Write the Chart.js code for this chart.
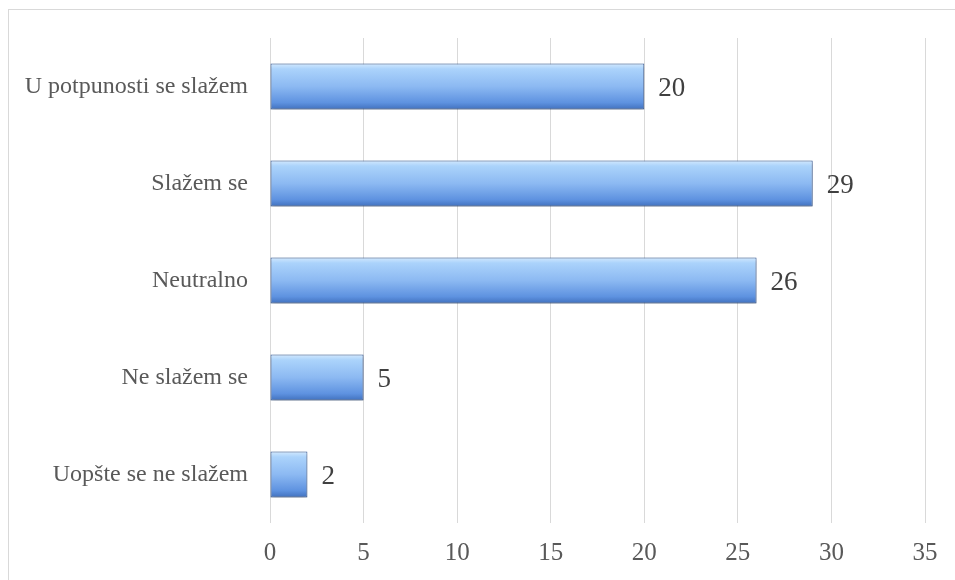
<!DOCTYPE html>
<html>
<head>
    <title>Slaganje</title>
    <script src="https://cdn.jsdelivr.net/npm/chart.js"></script>
    <style>
        body { margin: 0; background: #fff; }
        #frame { position: absolute; left: 8px; top: 9px; width: 960px; height: 580px;
                 border-left: 1px solid #d9d9d9; border-top: 1px solid #d9d9d9; }
        #wrap { position: absolute; left: 0; top: 0; width: 955px; height: 580px; }
    </style>
</head>
<body>
    <div id="frame"></div>
    <div id="wrap"><canvas id="answersChart" width="955" height="580"></canvas></div>

    <script>
        const categories = ['U potpunosti se slažem', 'Slažem se', 'Neutralno', 'Ne slažem se', 'Uopšte se ne slažem'];
        const counts = [20, 29, 26, 5, 2];
        const xTicks = [0, 5, 10, 15, 20, 25, 30, 35];

        const serif = '"Liberation Serif", "Times New Roman", serif';
        const catPct = 0.5, barPct = 0.95;

        // vertical gradient per bar, worked out from the y scale
        function barFill(c) {
            const ch = c.chart;
            const ys = ch.scales.y;
            if (!ys || !ch.chartArea) return '#8cb9f2';
            const yc = ys.getPixelForValue(c.dataIndex);
            const h = ys.height / categories.length * catPct * barPct;
            const top = yc - h / 2;
            const g = ch.ctx.createLinearGradient(0, top, 0, top + h);
            g.addColorStop(0, '#d3e9fe');
            g.addColorStop(0.12, '#abd3fb');
            g.addColorStop(0.5, '#8cb9f2');
            g.addColorStop(0.85, '#5e92e0');
            g.addColorStop(1, '#4070bd');
            return g;
        }

        const barExtras = {
            id: 'barExtras',
            beforeDatasetsDraw(chart) {
                const ctx = chart.ctx;
                ctx.save();
                ctx.shadowColor = 'rgba(0,0,0,0.3)';
                ctx.shadowBlur = 4;
                ctx.shadowOffsetY = 2;
            },
            afterDatasetsDraw(chart) {
                const ctx = chart.ctx;
                ctx.restore();
                ctx.save();
                ctx.font = '27px ' + serif;
                ctx.fillStyle = '#404040';
                ctx.textBaseline = 'middle';
                chart.getDatasetMeta(0).data.forEach((bar, i) => {
                    ctx.fillText(counts[i], bar.x + 14, bar.y + 2);
                });
                ctx.restore();
            }
        };

        const ctx = document.getElementById('answersChart').getContext('2d');
        new Chart(ctx, {
            type: 'bar',
            data: {
                labels: categories,
                datasets: [{
                    data: counts,
                    backgroundColor: barFill,
                    borderColor: '#3b5f9c',
                    borderWidth: 1,
                    borderSkipped: false,
                    categoryPercentage: catPct,
                    barPercentage: barPct
                }]
            },
            options: {
                indexAxis: 'y',
                responsive: false,
                animation: false,
                layout: { padding: { top: 38, right: 30, left: 0, bottom: 0 } },
                plugins: {
                    legend: { display: false },
                    tooltip: { enabled: false }
                },
                scales: {
                    x: {
                        min: 0,
                        max: 35,
                        afterBuildTicks: axis => { axis.ticks = xTicks.map(v => ({ value: v })); },
                        afterFit: axis => { axis.height = 57; },
                        grid: { color: '#d9d9d9', lineWidth: 1, drawTicks: false },
                        border: { display: false },
                        ticks: { padding: 15, color: '#595959', font: { family: serif, size: 25 } }
                    },
                    y: {
                        afterFit: axis => { axis.width = 270; },
                        grid: { display: false },
                        border: { display: false },
                        ticks: { padding: 14, color: '#595959', font: { family: serif, size: 24 } }
                    }
                }
            },
            plugins: [barExtras]
        });
    </script>
</body>
</html>
